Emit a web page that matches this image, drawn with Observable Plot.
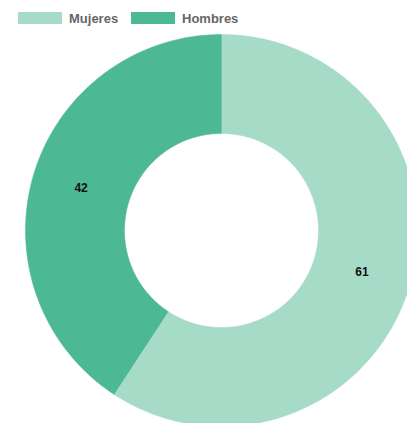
<!DOCTYPE html>
<html>
<head>
<meta charset="utf-8">
<script src="https://cdn.jsdelivr.net/npm/d3@7"></script>
<script src="https://cdn.jsdelivr.net/npm/@observablehq/plot@0.6"></script>
<style>
  html, body { margin: 0; padding: 0; background: #fff; overflow: hidden; }
  #wrap { position: relative; width: 407px; height: 423px; }
  #legend { position: absolute; left: 0; top: 11px; width: 407px; height: 16px;
    font-family: "Liberation Sans", Arial, Helvetica, sans-serif; font-weight: bold; font-size: 13px; color: #666; }
  .item { position: absolute; top: 0; display: flex; align-items: center; height: 14px; }
  .sw { width: 44px; height: 12px; margin-right: 7px; }
  #chart { position: absolute; left: 0; top: 0; }
</style>
</head>
<body>
<div id="wrap">
  <div id="chart"></div>
  <div id="legend"></div>
</div>
<script>
const categories = ["Mujeres", "Hombres"];
const values = [61, 42];
const colors = ["#a6dbc8", "#4db894"];

const outerR = 196, innerR = 97;
const pie = d3.pie().sort(null).value(d => d.value)(categories.map((c, i) => ({category: c, value: values[i]})));

const ring = [];
const labels = [];
for (const a of pie) {
  const n = 120;
  for (let k = 0; k <= n; k++) {
    const t = a.startAngle + (a.endAngle - a.startAngle) * k / n;
    ring.push({category: a.data.category, x: outerR * Math.sin(t), y: -outerR * Math.cos(t)});
  }
  for (let k = n; k >= 0; k--) {
    const t = a.startAngle + (a.endAngle - a.startAngle) * k / n;
    ring.push({category: a.data.category, x: innerR * Math.sin(t), y: -innerR * Math.cos(t)});
  }
  const m = (a.startAngle + a.endAngle) / 2, r = (outerR + innerR) / 2;
  labels.push({category: a.data.category, value: a.data.value, x: r * Math.sin(m), y: -r * Math.cos(m)});
}

const chart = Plot.plot({
  width: 407,
  height: 423,
  margin: 0,
  x: {domain: [-221, 186], range: [0, 407], axis: null},
  y: {domain: [-230, 193], range: [0, 423], axis: null},
  color: {domain: categories, range: colors},
  style: {background: "transparent", overflow: "hidden"},
  marks: [
    Plot.line(ring, {x: "x", y: "y", z: "category", fill: "category", stroke: "category", strokeWidth: 0.5, curve: "linear"}),
    Plot.text(labels, {x: "x", y: "y", text: d => String(d.value), fill: "#111",
      fontWeight: "bold", fontSize: 12, fontFamily: "Liberation Sans, Arial, sans-serif"})
  ]
});
document.getElementById("chart").appendChild(chart);

const legend = document.getElementById("legend");
const lefts = [18, 131];
categories.forEach((c, i) => {
  const it = document.createElement("div");
  it.className = "item";
  it.style.left = lefts[i] + "px";
  const sw = document.createElement("div");
  sw.className = "sw";
  sw.style.background = colors[i];
  const tx = document.createElement("span");
  tx.textContent = c;
  it.appendChild(sw); it.appendChild(tx);
  legend.appendChild(it);
});
</script>
</body>
</html>
